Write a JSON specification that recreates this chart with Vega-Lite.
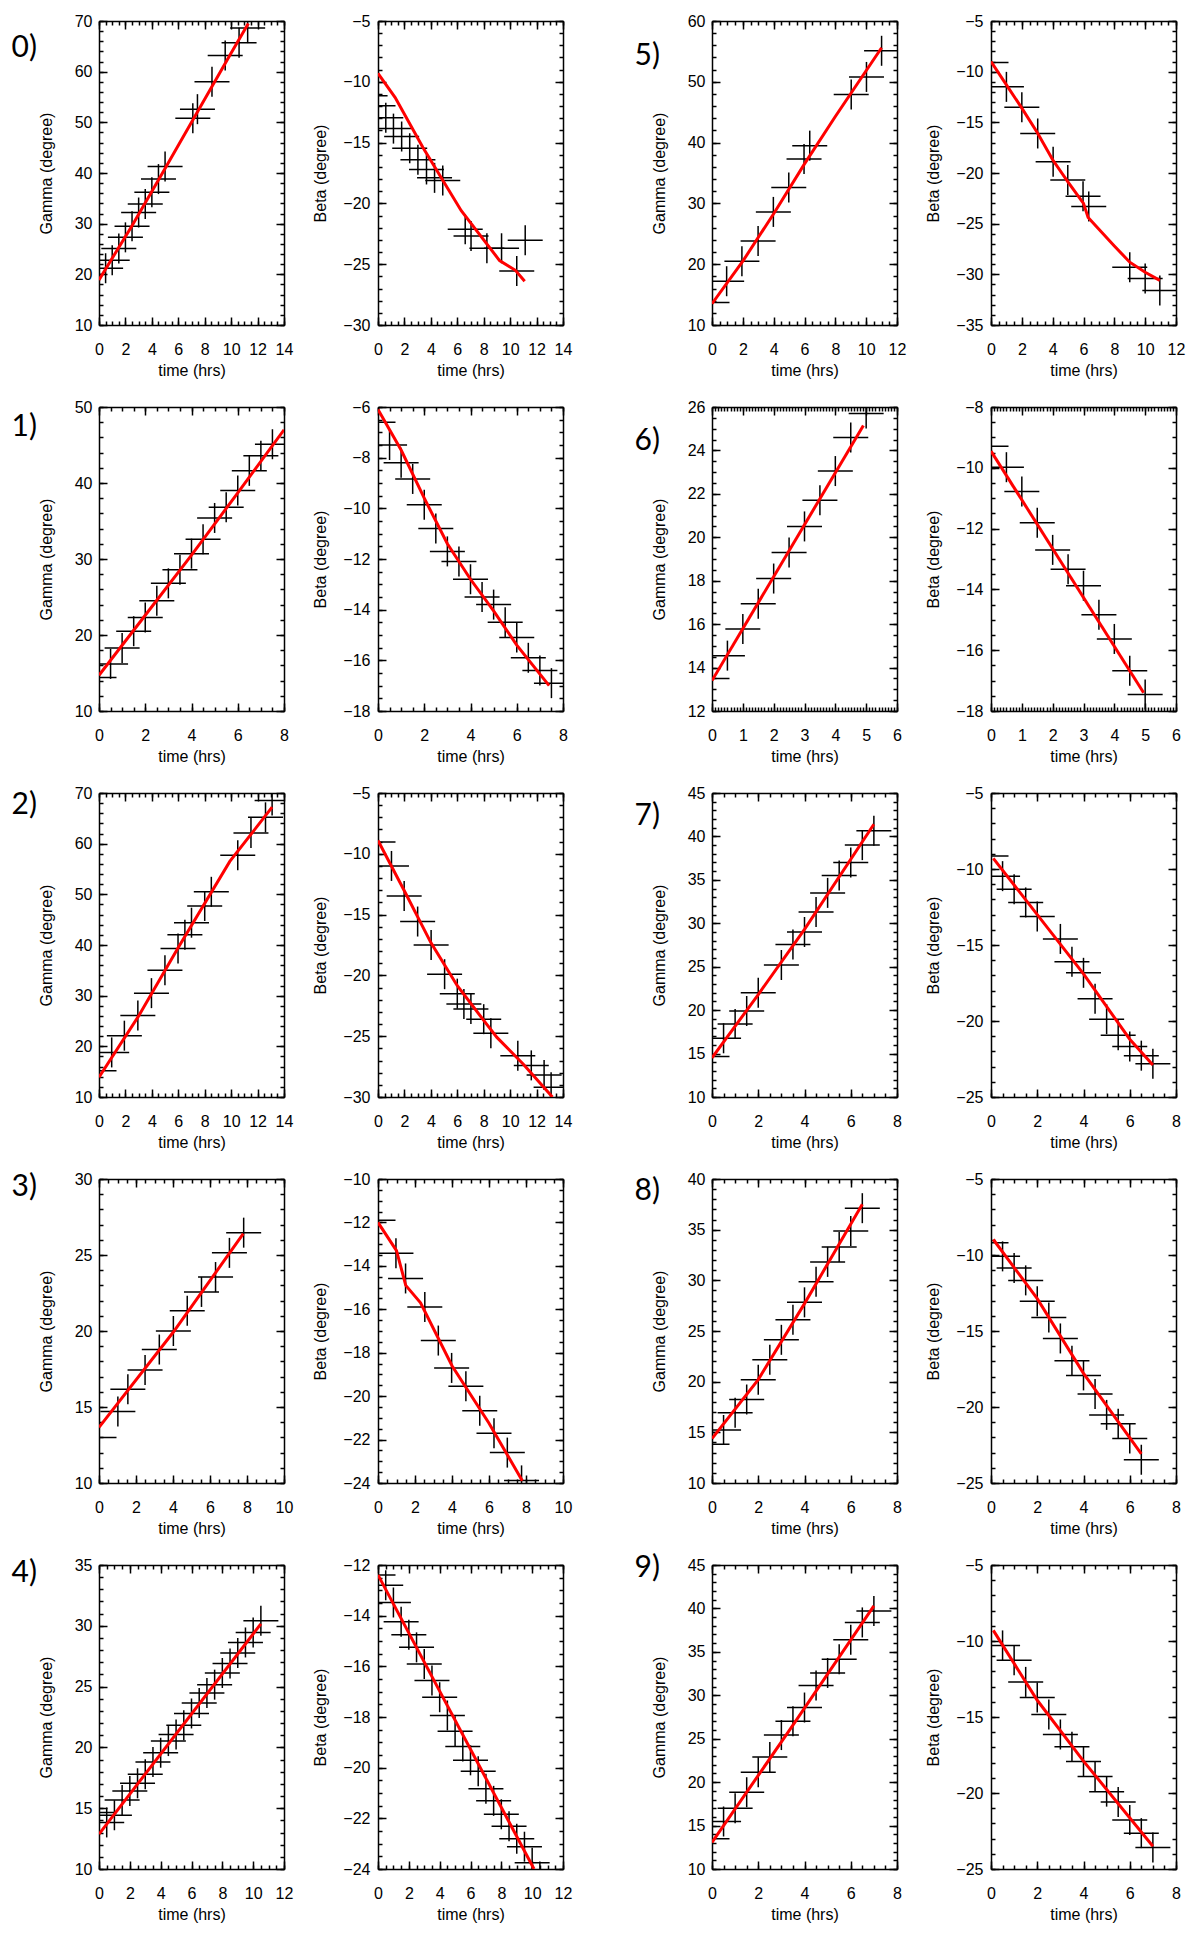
{
  "$schema": "https://vega.github.io/schema/vega-lite/v6.json",
  "background": "white",
  "padding": {"left": 11, "top": 13, "right": 5, "bottom": 5},
  "columns": 7,
  "spacing": {"row": 82, "column": 0},
  "bounds": "flush",
  "datasets": {
    "g0": [{"t":0.5,"v":21.2},{"t":1,"v":22.8},{"t":1.5,"v":25.1},{"t":2,"v":27.3},{"t":2.5,"v":29.5},{"t":3,"v":32.2},{"t":3.5,"v":33.9},{"t":4,"v":36.2},{"t":4.5,"v":38.8},{"t":5,"v":41.3},{"t":7.1,"v":50.8},{"t":7.45,"v":52.6},{"t":8.55,"v":58.0},{"t":9.55,"v":63.2},{"t":10.6,"v":65.7},{"t":11.25,"v":68.6}],
    "g0f": [{"t":0,"v":18.9},{"t":2.5,"v":29.6},{"t":5,"v":40.9},{"t":7.5,"v":52.3},{"t":10,"v":63.7},{"t":11.3,"v":69.5}],
    "b0": [{"t":-0.6,"v":-11.15},{"t":0,"v":-11.97},{"t":0.59,"v":-12.95},{"t":1.17,"v":-13.85},{"t":1.79,"v":-14.5},{"t":2.4,"v":-15.46},{"t":3.02,"v":-16.42},{"t":3.67,"v":-17.21},{"t":4.28,"v":-17.9},{"t":4.9,"v":-18.11},{"t":6.6,"v":-22.13},{"t":7.04,"v":-22.68},{"t":8.24,"v":-23.69},{"t":9.35,"v":-23.69},{"t":10.5,"v":-25.55},{"t":11.14,"v":-23.03}],
    "b0f": [{"t":0,"v":-9.3},{"t":1.3,"v":-11.3},{"t":3.4,"v":-15.4},{"t":6.3,"v":-20.6},{"t":9.2,"v":-24.7},{"t":10.4,"v":-25.5},{"t":11.1,"v":-26.4}],
    "g5": [{"t":0,"v":13.7},{"t":0.95,"v":17.2},{"t":1.94,"v":20.5},{"t":2.99,"v":23.8},{"t":3.98,"v":28.6},{"t":4.98,"v":32.6},{"t":5.97,"v":37.3},{"t":6.34,"v":39.5},{"t":9.03,"v":47.9},{"t":10.02,"v":50.8},{"t":11,"v":55.1}],
    "g5f": [{"t":0,"v":13.5},{"t":2,"v":20.5},{"t":4,"v":28.3},{"t":6,"v":36.5},{"t":8,"v":44.3},{"t":11,"v":55.6}],
    "b5": [{"t":0,"v":-9.1},{"t":1,"v":-11.5},{"t":2,"v":-13.5},{"t":3.03,"v":-16.1},{"t":4.03,"v":-18.9},{"t":4.98,"v":-20.7},{"t":5.97,"v":-22.3},{"t":6.34,"v":-23.3},{"t":9,"v":-29.3},{"t":10,"v":-30.4},{"t":10.95,"v":-31.6}],
    "b5f": [{"t":0,"v":-9},{"t":1,"v":-11.3},{"t":2,"v":-13.6},{"t":3,"v":-16},{"t":4,"v":-18.7},{"t":5,"v":-20.9},{"t":6,"v":-23},{"t":6.3,"v":-24.4},{"t":8,"v":-27.2},{"t":9,"v":-28.8},{"t":10,"v":-29.8},{"t":10.95,"v":-30.6}],
    "g1": [{"t":0,"v":14.4},{"t":0.5,"v":16.2},{"t":1,"v":18.3},{"t":1.5,"v":20.5},{"t":2,"v":22.3},{"t":2.5,"v":24.5},{"t":3,"v":26.8},{"t":3.5,"v":28.6},{"t":4,"v":30.7},{"t":4.5,"v":32.6},{"t":5,"v":35.4},{"t":5.5,"v":36.8},{"t":6,"v":39.0},{"t":6.5,"v":41.6},{"t":7,"v":43.6},{"t":7.5,"v":45.1}],
    "g1f": [{"t":0,"v":14.7},{"t":2,"v":22.6},{"t":4,"v":30.5},{"t":6,"v":38.7},{"t":8,"v":47.0}],
    "b1": [{"t":0,"v":-6.6},{"t":0.5,"v":-7.5},{"t":1,"v":-8.2},{"t":1.5,"v":-8.84},{"t":2,"v":-9.86},{"t":2.5,"v":-10.8},{"t":3,"v":-11.7},{"t":3.5,"v":-12.1},{"t":4,"v":-12.8},{"t":4.5,"v":-13.5},{"t":5,"v":-13.8},{"t":5.5,"v":-14.5},{"t":6,"v":-15.1},{"t":6.5,"v":-15.9},{"t":7,"v":-16.4},{"t":7.5,"v":-16.9}],
    "b1f": [{"t":0,"v":-6.1},{"t":1,"v":-7.7},{"t":2,"v":-9.6},{"t":3,"v":-11.4},{"t":4,"v":-12.8},{"t":5,"v":-14.05},{"t":6,"v":-15.4},{"t":7.4,"v":-17.0}],
    "g6": [{"t":0,"v":13.5},{"t":0.5,"v":14.55},{"t":1,"v":15.78},{"t":1.5,"v":16.94},{"t":2,"v":18.1},{"t":2.5,"v":19.3},{"t":3,"v":20.5},{"t":3.5,"v":21.7},{"t":4,"v":23.05},{"t":4.5,"v":24.6},{"t":5,"v":25.7}],
    "g6f": [{"t":0,"v":13.4},{"t":4.91,"v":25.15}],
    "b6": [{"t":0,"v":-9.29},{"t":0.5,"v":-9.98},{"t":1,"v":-10.78},{"t":1.5,"v":-11.81},{"t":2,"v":-12.7},{"t":2.5,"v":-13.34},{"t":3,"v":-13.88},{"t":3.5,"v":-14.83},{"t":4,"v":-15.63},{"t":4.5,"v":-16.68},{"t":5,"v":-17.46}],
    "b6f": [{"t":0,"v":-9.45},{"t":4.95,"v":-17.4}],
    "g2": [{"t":0,"v":15.2},{"t":0.96,"v":18.8},{"t":1.92,"v":22.1},{"t":2.94,"v":26.1},{"t":3.97,"v":30.5},{"t":4.99,"v":35.0},{"t":5.98,"v":39.3},{"t":6.5,"v":42.0},{"t":7,"v":44.4},{"t":8,"v":47.7},{"t":8.5,"v":50.5},{"t":10.5,"v":57.7},{"t":11.5,"v":62.1},{"t":12.6,"v":65.2},{"t":13.1,"v":68.5}],
    "g2f": [{"t":0,"v":13.9},{"t":3,"v":26.0},{"t":6,"v":39.5},{"t":9.9,"v":56.5},{"t":13.1,"v":67.2}],
    "b2": [{"t":0,"v":-9.02},{"t":1.02,"v":-11.0},{"t":1.98,"v":-13.47},{"t":3,"v":-15.57},{"t":4.02,"v":-17.5},{"t":5.04,"v":-19.9},{"t":6,"v":-21.5},{"t":6.5,"v":-22.35},{"t":7.03,"v":-22.76},{"t":8,"v":-23.6},{"t":8.54,"v":-24.75},{"t":10.58,"v":-26.6},{"t":11.6,"v":-27.4},{"t":12.57,"v":-28.2},{"t":13.1,"v":-29.2}],
    "b2f": [{"t":0,"v":-8.9},{"t":2,"v":-13.06},{"t":4,"v":-17.3},{"t":6,"v":-20.85},{"t":8,"v":-23.7},{"t":9,"v":-25.1},{"t":11,"v":-27.3},{"t":13.2,"v":-30.0}],
    "g7": [{"t":0,"v":14.65},{"t":0.5,"v":16.76},{"t":1,"v":18.4},{"t":1.5,"v":19.9},{"t":2,"v":22.0},{"t":3,"v":25.2},{"t":3.5,"v":27.56},{"t":4,"v":29.0},{"t":4.5,"v":31.3},{"t":5,"v":33.5},{"t":5.5,"v":35.5},{"t":6,"v":37.0},{"t":6.5,"v":39.0},{"t":7,"v":40.65}],
    "g7f": [{"t":0,"v":14.5},{"t":2,"v":21.8},{"t":4,"v":29.3},{"t":7,"v":41.4}],
    "b7": [{"t":0,"v":-9.14},{"t":0.5,"v":-10.47},{"t":1,"v":-11.34},{"t":1.5,"v":-12.2},{"t":2,"v":-13.13},{"t":3,"v":-14.6},{"t":3.5,"v":-16.1},{"t":4,"v":-16.83},{"t":4.5,"v":-18.53},{"t":5,"v":-19.88},{"t":5.5,"v":-20.93},{"t":6,"v":-21.67},{"t":6.5,"v":-22.28},{"t":7,"v":-22.82}],
    "b7f": [{"t":0.1,"v":-9.3},{"t":2,"v":-13.0},{"t":4,"v":-16.9},{"t":6,"v":-21.2},{"t":7,"v":-22.9}],
    "g3": [{"t":0,"v":13.0},{"t":1.02,"v":14.7},{"t":1.56,"v":16.17},{"t":2.49,"v":17.43},{"t":3.26,"v":18.78},{"t":4.02,"v":20.0},{"t":4.77,"v":21.33},{"t":5.54,"v":22.57},{"t":6.3,"v":23.55},{"t":7.05,"v":25.14},{"t":7.82,"v":26.47}],
    "g3f": [{"t":0,"v":13.66},{"t":4,"v":19.9},{"t":7.8,"v":26.4}],
    "b3": [{"t":0,"v":-11.9},{"t":0.97,"v":-13.42},{"t":1.49,"v":-14.58},{"t":2.53,"v":-15.9},{"t":3.26,"v":-17.44},{"t":3.98,"v":-18.7},{"t":4.75,"v":-19.54},{"t":5.5,"v":-20.67},{"t":6.27,"v":-21.71},{"t":6.99,"v":-22.6},{"t":7.76,"v":-23.88}],
    "b3f": [{"t":0,"v":-12.0},{"t":1,"v":-13.3},{"t":1.5,"v":-14.9},{"t":2.3,"v":-15.7},{"t":4,"v":-18.6},{"t":6,"v":-21.25},{"t":7.8,"v":-23.9}],
    "g8": [{"t":0,"v":13.83},{"t":0.5,"v":15.23},{"t":1,"v":16.93},{"t":1.5,"v":18.24},{"t":2,"v":20.2},{"t":2.5,"v":22.17},{"t":3,"v":24.13},{"t":3.5,"v":26.1},{"t":4,"v":27.83},{"t":4.5,"v":29.86},{"t":5,"v":31.82},{"t":5.5,"v":33.29},{"t":6,"v":34.86},{"t":6.5,"v":37.12}],
    "g8f": [{"t":0,"v":14.38},{"t":2,"v":20.2},{"t":4,"v":27.7},{"t":6.5,"v":37.5}],
    "b8": [{"t":0,"v":-9.2},{"t":0.5,"v":-10.09},{"t":1,"v":-10.86},{"t":1.5,"v":-11.67},{"t":2,"v":-13.04},{"t":2.5,"v":-14.11},{"t":3,"v":-15.49},{"t":3.5,"v":-16.96},{"t":4,"v":-17.92},{"t":4.5,"v":-19.14},{"t":5,"v":-20.52},{"t":5.5,"v":-21.11},{"t":6,"v":-22.07},{"t":6.5,"v":-23.47}],
    "b8f": [{"t":0.1,"v":-8.98},{"t":2,"v":-12.87},{"t":4,"v":-17.79},{"t":6.5,"v":-23.08}],
    "g4": [{"t":0,"v":14.64},{"t":0.5,"v":13.83},{"t":1,"v":14.43},{"t":1.5,"v":15.68},{"t":2,"v":16.42},{"t":2.5,"v":17.05},{"t":3,"v":17.79},{"t":3.5,"v":18.8},{"t":4,"v":19.56},{"t":4.5,"v":20.52},{"t":5,"v":21.07},{"t":5.5,"v":21.83},{"t":6,"v":22.79},{"t":6.5,"v":23.66},{"t":7,"v":24.48},{"t":7.5,"v":25.16},{"t":8,"v":26.12},{"t":8.5,"v":26.89},{"t":9,"v":27.76},{"t":9.5,"v":28.63},{"t":10,"v":29.45},{"t":10.5,"v":30.41}],
    "g4f": [{"t":0,"v":12.87},{"t":10.5,"v":30.16}],
    "b4": [{"t":0,"v":-12.39},{"t":0.5,"v":-12.8},{"t":1,"v":-13.48},{"t":1.5,"v":-14.24},{"t":2,"v":-14.75},{"t":2.5,"v":-15.25},{"t":3,"v":-15.91},{"t":3.5,"v":-16.56},{"t":4,"v":-17.22},{"t":4.5,"v":-17.94},{"t":5,"v":-18.56},{"t":5.5,"v":-19.16},{"t":6,"v":-19.71},{"t":6.5,"v":-20.14},{"t":7,"v":-20.83},{"t":7.5,"v":-21.31},{"t":8,"v":-21.84},{"t":8.5,"v":-22.31},{"t":9,"v":-22.81},{"t":9.5,"v":-23.12},{"t":10,"v":-23.75},{"t":10.5,"v":-24.3}],
    "b4f": [{"t":0,"v":-12.39},{"t":10.12,"v":-24.0}],
    "g9": [{"t":0,"v":13.48},{"t":0.5,"v":15.47},{"t":1,"v":17.0},{"t":1.5,"v":18.84},{"t":2,"v":21.13},{"t":2.5,"v":22.89},{"t":3,"v":25.42},{"t":3.5,"v":27.02},{"t":4,"v":28.59},{"t":4.5,"v":31.12},{"t":5,"v":32.57},{"t":5.5,"v":34.14},{"t":6,"v":36.4},{"t":6.5,"v":38.39},{"t":7,"v":39.69}],
    "g9f": [{"t":0,"v":13.06},{"t":3.5,"v":26.56},{"t":7,"v":40.3}],
    "b9": [{"t":0.5,"v":-10.29},{"t":1,"v":-11.27},{"t":1.5,"v":-12.69},{"t":2,"v":-13.72},{"t":2.5,"v":-14.84},{"t":3,"v":-16.15},{"t":3.5,"v":-16.96},{"t":4,"v":-17.92},{"t":4.5,"v":-18.92},{"t":5,"v":-19.91},{"t":5.5,"v":-20.6},{"t":6,"v":-21.77},{"t":6.5,"v":-22.64},{"t":7,"v":-23.58}],
    "b9f": [{"t":0.1,"v":-9.3},{"t":2,"v":-13.9},{"t":4,"v":-17.9},{"t":7,"v":-23.5}]
  },
  "concat": [
    {"width":185,"height":304,
     "title":{"text":"0)","orient":"top","anchor":"start","frame":"group","align":"right","baseline":"top","dx":-62,"dy":50,"offset":0,"font":"Lato","fontSize":30,"fontWeight":"normal","color":"black"},
     "resolve":{"axis":{"x":"independent","y":"independent"}},
     "layer":[
      {"data":{"name":"g0"},"mark":{"type":"tick","orient":"horizontal","size":35,"thickness":1.5,"color":"black","opacity":1,"clip":true},
       "encoding":{"x":{"field":"t","type":"quantitative","scale":{"domain":[0,14],"nice":false,"zero":false},"axis":{"orient":"bottom","values":[0,2,4,6,8,10,12,14],"tickSize":-8,"labelPadding":24,"title":"time (hrs)","minExtent":32,"maxExtent":32,"titlePadding":5}},
                   "y":{"field":"v","type":"quantitative","scale":{"domain":[10,70],"nice":false,"zero":false},"axis":{"orient":"left","values":[10,20,30,40,50,60,70],"tickSize":-8,"labelPadding":15,"title":"Gamma (degree)","minExtent":39,"maxExtent":39,"titlePadding":6}}}},
      {"data":{"name":"g0"},"mark":{"type":"tick","orient":"vertical","size":30,"thickness":1.5,"color":"black","opacity":1,"clip":true},
       "encoding":{"x":{"field":"t","type":"quantitative","scale":{"domain":[0,14],"nice":false,"zero":false},"axis":{"orient":"top","values":[0,2,4,6,8,10,12,14],"tickSize":-8,"labels":false,"title":null}},
                   "y":{"field":"v","type":"quantitative","scale":{"domain":[10,70],"nice":false,"zero":false},"axis":{"orient":"right","values":[10,20,30,40,50,60,70],"tickSize":-8,"labels":false,"title":null}}}},
      {"data":{"name":"g0f"},"mark":{"type":"line","color":"#ff0000","strokeWidth":3,"clip":true},
       "encoding":{"x":{"field":"t","type":"quantitative","scale":{"domain":[0,14],"nice":false,"zero":false},"axis":{"orient":"bottom","tickCount":28,"tickSize":-4,"labels":false,"domain":false,"title":null}},
                   "y":{"field":"v","type":"quantitative","scale":{"domain":[10,70],"nice":false,"zero":false},"axis":{"orient":"left","tickCount":30,"tickSize":-4,"labels":false,"domain":false,"title":null}}}},
      {"data":{"name":"g0f"},"mark":{"type":"point","opacity":0},
       "encoding":{"x":{"field":"t","type":"quantitative","scale":{"domain":[0,14],"nice":false,"zero":false},"axis":{"orient":"top","tickCount":28,"tickSize":-4,"labels":false,"domain":false,"title":null}},
                   "y":{"field":"v","type":"quantitative","scale":{"domain":[10,70],"nice":false,"zero":false},"axis":{"orient":"right","tickCount":30,"tickSize":-4,"labels":false,"domain":false,"title":null}}}}
     ]},
    {"width":94,"height":304,"data":{"values":[{"a":0}]},"mark":{"type":"point","opacity":0}},
    {"width":185,"height":304,
     "resolve":{"axis":{"x":"independent","y":"independent"}},
     "layer":[
      {"data":{"name":"b0"},"mark":{"type":"tick","orient":"horizontal","size":35,"thickness":1.5,"color":"black","opacity":1,"clip":true},
       "encoding":{"x":{"field":"t","type":"quantitative","scale":{"domain":[0,14],"nice":false,"zero":false},"axis":{"orient":"bottom","values":[0,2,4,6,8,10,12,14],"tickSize":-8,"labelPadding":24,"title":"time (hrs)","minExtent":32,"maxExtent":32,"titlePadding":5}},
                   "y":{"field":"v","type":"quantitative","scale":{"domain":[-30,-5],"nice":false,"zero":false},"axis":{"orient":"left","values":[-30,-25,-20,-15,-10,-5],"tickSize":-8,"labelPadding":16,"title":"Beta (degree)","minExtent":44,"maxExtent":44,"titlePadding":6}}}},
      {"data":{"name":"b0"},"mark":{"type":"tick","orient":"vertical","size":30,"thickness":1.5,"color":"black","opacity":1,"clip":true},
       "encoding":{"x":{"field":"t","type":"quantitative","scale":{"domain":[0,14],"nice":false,"zero":false},"axis":{"orient":"top","values":[0,2,4,6,8,10,12,14],"tickSize":-8,"labels":false,"title":null}},
                   "y":{"field":"v","type":"quantitative","scale":{"domain":[-30,-5],"nice":false,"zero":false},"axis":{"orient":"right","values":[-30,-25,-20,-15,-10,-5],"tickSize":-8,"labels":false,"title":null}}}},
      {"data":{"name":"b0f"},"mark":{"type":"line","color":"#ff0000","strokeWidth":3,"clip":true},
       "encoding":{"x":{"field":"t","type":"quantitative","scale":{"domain":[0,14],"nice":false,"zero":false},"axis":{"orient":"bottom","tickCount":28,"tickSize":-4,"labels":false,"domain":false,"title":null}},
                   "y":{"field":"v","type":"quantitative","scale":{"domain":[-30,-5],"nice":false,"zero":false},"axis":{"orient":"left","tickCount":25,"tickSize":-4,"labels":false,"domain":false,"title":null}}}},
      {"data":{"name":"b0f"},"mark":{"type":"point","opacity":0},
       "encoding":{"x":{"field":"t","type":"quantitative","scale":{"domain":[0,14],"nice":false,"zero":false},"axis":{"orient":"top","tickCount":28,"tickSize":-4,"labels":false,"domain":false,"title":null}},
                   "y":{"field":"v","type":"quantitative","scale":{"domain":[-30,-5],"nice":false,"zero":false},"axis":{"orient":"right","tickCount":25,"tickSize":-4,"labels":false,"domain":false,"title":null}}}}
     ]},
    {"width":149,"height":304,"data":{"values":[{"a":0}]},"mark":{"type":"point","opacity":0}},
    {"width":185,"height":304,
     "title":{"text":"5)","orient":"top","anchor":"start","frame":"group","align":"right","baseline":"top","dx":-52,"dy":58,"offset":0,"font":"Lato","fontSize":30,"fontWeight":"normal","color":"black"},
     "resolve":{"axis":{"x":"independent","y":"independent"}},
     "layer":[
      {"data":{"name":"g5"},"mark":{"type":"tick","orient":"horizontal","size":35,"thickness":1.5,"color":"black","opacity":1,"clip":true},
       "encoding":{"x":{"field":"t","type":"quantitative","scale":{"domain":[0,12],"nice":false,"zero":false},"axis":{"orient":"bottom","values":[0,2,4,6,8,10,12],"tickSize":-8,"labelPadding":24,"title":"time (hrs)","minExtent":32,"maxExtent":32,"titlePadding":5}},
                   "y":{"field":"v","type":"quantitative","scale":{"domain":[10,60],"nice":false,"zero":false},"axis":{"orient":"left","values":[10,20,30,40,50,60],"tickSize":-8,"labelPadding":15,"title":"Gamma (degree)","minExtent":39,"maxExtent":39,"titlePadding":6}}}},
      {"data":{"name":"g5"},"mark":{"type":"tick","orient":"vertical","size":30,"thickness":1.5,"color":"black","opacity":1,"clip":true},
       "encoding":{"x":{"field":"t","type":"quantitative","scale":{"domain":[0,12],"nice":false,"zero":false},"axis":{"orient":"top","values":[0,2,4,6,8,10,12],"tickSize":-8,"labels":false,"title":null}},
                   "y":{"field":"v","type":"quantitative","scale":{"domain":[10,60],"nice":false,"zero":false},"axis":{"orient":"right","values":[10,20,30,40,50,60],"tickSize":-8,"labels":false,"title":null}}}},
      {"data":{"name":"g5f"},"mark":{"type":"line","color":"#ff0000","strokeWidth":3,"clip":true},
       "encoding":{"x":{"field":"t","type":"quantitative","scale":{"domain":[0,12],"nice":false,"zero":false},"axis":{"orient":"bottom","tickCount":24,"tickSize":-4,"labels":false,"domain":false,"title":null}},
                   "y":{"field":"v","type":"quantitative","scale":{"domain":[10,60],"nice":false,"zero":false},"axis":{"orient":"left","tickCount":25,"tickSize":-4,"labels":false,"domain":false,"title":null}}}},
      {"data":{"name":"g5f"},"mark":{"type":"point","opacity":0},
       "encoding":{"x":{"field":"t","type":"quantitative","scale":{"domain":[0,12],"nice":false,"zero":false},"axis":{"orient":"top","tickCount":24,"tickSize":-4,"labels":false,"domain":false,"title":null}},
                   "y":{"field":"v","type":"quantitative","scale":{"domain":[10,60],"nice":false,"zero":false},"axis":{"orient":"right","tickCount":25,"tickSize":-4,"labels":false,"domain":false,"title":null}}}}
     ]},
    {"width":94,"height":304,"data":{"values":[{"a":0}]},"mark":{"type":"point","opacity":0}},
    {"width":185,"height":304,
     "resolve":{"axis":{"x":"independent","y":"independent"}},
     "layer":[
      {"data":{"name":"b5"},"mark":{"type":"tick","orient":"horizontal","size":35,"thickness":1.5,"color":"black","opacity":1,"clip":true},
       "encoding":{"x":{"field":"t","type":"quantitative","scale":{"domain":[0,12],"nice":false,"zero":false},"axis":{"orient":"bottom","values":[0,2,4,6,8,10,12],"tickSize":-8,"labelPadding":24,"title":"time (hrs)","minExtent":32,"maxExtent":32,"titlePadding":5}},
                   "y":{"field":"v","type":"quantitative","scale":{"domain":[-35,-5],"nice":false,"zero":false},"axis":{"orient":"left","values":[-35,-30,-25,-20,-15,-10,-5],"tickSize":-8,"labelPadding":16,"title":"Beta (degree)","minExtent":44,"maxExtent":44,"titlePadding":6}}}},
      {"data":{"name":"b5"},"mark":{"type":"tick","orient":"vertical","size":30,"thickness":1.5,"color":"black","opacity":1,"clip":true},
       "encoding":{"x":{"field":"t","type":"quantitative","scale":{"domain":[0,12],"nice":false,"zero":false},"axis":{"orient":"top","values":[0,2,4,6,8,10,12],"tickSize":-8,"labels":false,"title":null}},
                   "y":{"field":"v","type":"quantitative","scale":{"domain":[-35,-5],"nice":false,"zero":false},"axis":{"orient":"right","values":[-35,-30,-25,-20,-15,-10,-5],"tickSize":-8,"labels":false,"title":null}}}},
      {"data":{"name":"b5f"},"mark":{"type":"line","color":"#ff0000","strokeWidth":3,"clip":true},
       "encoding":{"x":{"field":"t","type":"quantitative","scale":{"domain":[0,12],"nice":false,"zero":false},"axis":{"orient":"bottom","tickCount":24,"tickSize":-4,"labels":false,"domain":false,"title":null}},
                   "y":{"field":"v","type":"quantitative","scale":{"domain":[-35,-5],"nice":false,"zero":false},"axis":{"orient":"left","tickCount":30,"tickSize":-4,"labels":false,"domain":false,"title":null}}}},
      {"data":{"name":"b5f"},"mark":{"type":"point","opacity":0},
       "encoding":{"x":{"field":"t","type":"quantitative","scale":{"domain":[0,12],"nice":false,"zero":false},"axis":{"orient":"top","tickCount":24,"tickSize":-4,"labels":false,"domain":false,"title":null}},
                   "y":{"field":"v","type":"quantitative","scale":{"domain":[-35,-5],"nice":false,"zero":false},"axis":{"orient":"right","tickCount":30,"tickSize":-4,"labels":false,"domain":false,"title":null}}}}
     ]},

    {"width":185,"height":304,
     "title":{"text":"1)","orient":"top","anchor":"start","frame":"group","align":"right","baseline":"top","dx":-62,"dy":43,"offset":0,"font":"Lato","fontSize":30,"fontWeight":"normal","color":"black"},
     "resolve":{"axis":{"x":"independent","y":"independent"}},
     "layer":[
      {"data":{"name":"g1"},"mark":{"type":"tick","orient":"horizontal","size":35,"thickness":1.5,"color":"black","opacity":1,"clip":true},
       "encoding":{"x":{"field":"t","type":"quantitative","scale":{"domain":[0,8],"nice":false,"zero":false},"axis":{"orient":"bottom","values":[0,2,4,6,8],"tickSize":-8,"labelPadding":24,"title":"time (hrs)","minExtent":32,"maxExtent":32,"titlePadding":5}},
                   "y":{"field":"v","type":"quantitative","scale":{"domain":[10,50],"nice":false,"zero":false},"axis":{"orient":"left","values":[10,20,30,40,50],"tickSize":-8,"labelPadding":15,"title":"Gamma (degree)","minExtent":39,"maxExtent":39,"titlePadding":6}}}},
      {"data":{"name":"g1"},"mark":{"type":"tick","orient":"vertical","size":30,"thickness":1.5,"color":"black","opacity":1,"clip":true},
       "encoding":{"x":{"field":"t","type":"quantitative","scale":{"domain":[0,8],"nice":false,"zero":false},"axis":{"orient":"top","values":[0,2,4,6,8],"tickSize":-8,"labels":false,"title":null}},
                   "y":{"field":"v","type":"quantitative","scale":{"domain":[10,50],"nice":false,"zero":false},"axis":{"orient":"right","values":[10,20,30,40,50],"tickSize":-8,"labels":false,"title":null}}}},
      {"data":{"name":"g1f"},"mark":{"type":"line","color":"#ff0000","strokeWidth":3,"clip":true},
       "encoding":{"x":{"field":"t","type":"quantitative","scale":{"domain":[0,8],"nice":false,"zero":false},"axis":{"orient":"bottom","tickCount":16,"tickSize":-4,"labels":false,"domain":false,"title":null}},
                   "y":{"field":"v","type":"quantitative","scale":{"domain":[10,50],"nice":false,"zero":false},"axis":{"orient":"left","tickCount":20,"tickSize":-4,"labels":false,"domain":false,"title":null}}}},
      {"data":{"name":"g1f"},"mark":{"type":"point","opacity":0},
       "encoding":{"x":{"field":"t","type":"quantitative","scale":{"domain":[0,8],"nice":false,"zero":false},"axis":{"orient":"top","tickCount":16,"tickSize":-4,"labels":false,"domain":false,"title":null}},
                   "y":{"field":"v","type":"quantitative","scale":{"domain":[10,50],"nice":false,"zero":false},"axis":{"orient":"right","tickCount":20,"tickSize":-4,"labels":false,"domain":false,"title":null}}}}
     ]},
    {"width":94,"height":304,"data":{"values":[{"a":0}]},"mark":{"type":"point","opacity":0}},
    {"width":185,"height":304,
     "resolve":{"axis":{"x":"independent","y":"independent"}},
     "layer":[
      {"data":{"name":"b1"},"mark":{"type":"tick","orient":"horizontal","size":35,"thickness":1.5,"color":"black","opacity":1,"clip":true},
       "encoding":{"x":{"field":"t","type":"quantitative","scale":{"domain":[0,8],"nice":false,"zero":false},"axis":{"orient":"bottom","values":[0,2,4,6,8],"tickSize":-8,"labelPadding":24,"title":"time (hrs)","minExtent":32,"maxExtent":32,"titlePadding":5}},
                   "y":{"field":"v","type":"quantitative","scale":{"domain":[-18,-6],"nice":false,"zero":false},"axis":{"orient":"left","values":[-18,-16,-14,-12,-10,-8,-6],"tickSize":-8,"labelPadding":16,"title":"Beta (degree)","minExtent":44,"maxExtent":44,"titlePadding":6}}}},
      {"data":{"name":"b1"},"mark":{"type":"tick","orient":"vertical","size":30,"thickness":1.5,"color":"black","opacity":1,"clip":true},
       "encoding":{"x":{"field":"t","type":"quantitative","scale":{"domain":[0,8],"nice":false,"zero":false},"axis":{"orient":"top","values":[0,2,4,6,8],"tickSize":-8,"labels":false,"title":null}},
                   "y":{"field":"v","type":"quantitative","scale":{"domain":[-18,-6],"nice":false,"zero":false},"axis":{"orient":"right","values":[-18,-16,-14,-12,-10,-8,-6],"tickSize":-8,"labels":false,"title":null}}}},
      {"data":{"name":"b1f"},"mark":{"type":"line","color":"#ff0000","strokeWidth":3,"clip":true},
       "encoding":{"x":{"field":"t","type":"quantitative","scale":{"domain":[0,8],"nice":false,"zero":false},"axis":{"orient":"bottom","tickCount":16,"tickSize":-4,"labels":false,"domain":false,"title":null}},
                   "y":{"field":"v","type":"quantitative","scale":{"domain":[-18,-6],"nice":false,"zero":false},"axis":{"orient":"left","tickCount":24,"tickSize":-4,"labels":false,"domain":false,"title":null}}}},
      {"data":{"name":"b1f"},"mark":{"type":"point","opacity":0},
       "encoding":{"x":{"field":"t","type":"quantitative","scale":{"domain":[0,8],"nice":false,"zero":false},"axis":{"orient":"top","tickCount":16,"tickSize":-4,"labels":false,"domain":false,"title":null}},
                   "y":{"field":"v","type":"quantitative","scale":{"domain":[-18,-6],"nice":false,"zero":false},"axis":{"orient":"right","tickCount":24,"tickSize":-4,"labels":false,"domain":false,"title":null}}}}
     ]},
    {"width":149,"height":304,"data":{"values":[{"a":0}]},"mark":{"type":"point","opacity":0}},
    {"width":185,"height":304,
     "title":{"text":"6)","orient":"top","anchor":"start","frame":"group","align":"right","baseline":"top","dx":-52,"dy":57,"offset":0,"font":"Lato","fontSize":30,"fontWeight":"normal","color":"black"},
     "resolve":{"axis":{"x":"independent","y":"independent"}},
     "layer":[
      {"data":{"name":"g6"},"mark":{"type":"tick","orient":"horizontal","size":35,"thickness":1.5,"color":"black","opacity":1,"clip":true},
       "encoding":{"x":{"field":"t","type":"quantitative","scale":{"domain":[0,6],"nice":false,"zero":false},"axis":{"orient":"bottom","values":[0,1,2,3,4,5,6],"tickSize":-8,"labelPadding":24,"title":"time (hrs)","minExtent":32,"maxExtent":32,"titlePadding":5}},
                   "y":{"field":"v","type":"quantitative","scale":{"domain":[12,26],"nice":false,"zero":false},"axis":{"orient":"left","values":[12,14,16,18,20,22,24,26],"tickSize":-8,"labelPadding":15,"title":"Gamma (degree)","minExtent":39,"maxExtent":39,"titlePadding":6}}}},
      {"data":{"name":"g6"},"mark":{"type":"tick","orient":"vertical","size":30,"thickness":1.5,"color":"black","opacity":1,"clip":true},
       "encoding":{"x":{"field":"t","type":"quantitative","scale":{"domain":[0,6],"nice":false,"zero":false},"axis":{"orient":"top","values":[0,1,2,3,4,5,6],"tickSize":-8,"labels":false,"title":null}},
                   "y":{"field":"v","type":"quantitative","scale":{"domain":[12,26],"nice":false,"zero":false},"axis":{"orient":"right","values":[12,14,16,18,20,22,24,26],"tickSize":-8,"labels":false,"title":null}}}},
      {"data":{"name":"g6f"},"mark":{"type":"line","color":"#ff0000","strokeWidth":3,"clip":true},
       "encoding":{"x":{"field":"t","type":"quantitative","scale":{"domain":[0,6],"nice":false,"zero":false},"axis":{"orient":"bottom","tickCount":60,"tickSize":-4,"labels":false,"domain":false,"title":null}},
                   "y":{"field":"v","type":"quantitative","scale":{"domain":[12,26],"nice":false,"zero":false},"axis":{"orient":"left","tickCount":28,"tickSize":-4,"labels":false,"domain":false,"title":null}}}},
      {"data":{"name":"g6f"},"mark":{"type":"point","opacity":0},
       "encoding":{"x":{"field":"t","type":"quantitative","scale":{"domain":[0,6],"nice":false,"zero":false},"axis":{"orient":"top","tickCount":60,"tickSize":-4,"labels":false,"domain":false,"title":null}},
                   "y":{"field":"v","type":"quantitative","scale":{"domain":[12,26],"nice":false,"zero":false},"axis":{"orient":"right","tickCount":28,"tickSize":-4,"labels":false,"domain":false,"title":null}}}}
     ]},
    {"width":94,"height":304,"data":{"values":[{"a":0}]},"mark":{"type":"point","opacity":0}},
    {"width":185,"height":304,
     "resolve":{"axis":{"x":"independent","y":"independent"}},
     "layer":[
      {"data":{"name":"b6"},"mark":{"type":"tick","orient":"horizontal","size":35,"thickness":1.5,"color":"black","opacity":1,"clip":true},
       "encoding":{"x":{"field":"t","type":"quantitative","scale":{"domain":[0,6],"nice":false,"zero":false},"axis":{"orient":"bottom","values":[0,1,2,3,4,5,6],"tickSize":-8,"labelPadding":24,"title":"time (hrs)","minExtent":32,"maxExtent":32,"titlePadding":5}},
                   "y":{"field":"v","type":"quantitative","scale":{"domain":[-18,-8],"nice":false,"zero":false},"axis":{"orient":"left","values":[-18,-16,-14,-12,-10,-8],"tickSize":-8,"labelPadding":16,"title":"Beta (degree)","minExtent":44,"maxExtent":44,"titlePadding":6}}}},
      {"data":{"name":"b6"},"mark":{"type":"tick","orient":"vertical","size":30,"thickness":1.5,"color":"black","opacity":1,"clip":true},
       "encoding":{"x":{"field":"t","type":"quantitative","scale":{"domain":[0,6],"nice":false,"zero":false},"axis":{"orient":"top","values":[0,1,2,3,4,5,6],"tickSize":-8,"labels":false,"title":null}},
                   "y":{"field":"v","type":"quantitative","scale":{"domain":[-18,-8],"nice":false,"zero":false},"axis":{"orient":"right","values":[-18,-16,-14,-12,-10,-8],"tickSize":-8,"labels":false,"title":null}}}},
      {"data":{"name":"b6f"},"mark":{"type":"line","color":"#ff0000","strokeWidth":3,"clip":true},
       "encoding":{"x":{"field":"t","type":"quantitative","scale":{"domain":[0,6],"nice":false,"zero":false},"axis":{"orient":"bottom","tickCount":60,"tickSize":-4,"labels":false,"domain":false,"title":null}},
                   "y":{"field":"v","type":"quantitative","scale":{"domain":[-18,-8],"nice":false,"zero":false},"axis":{"orient":"left","tickCount":20,"tickSize":-4,"labels":false,"domain":false,"title":null}}}},
      {"data":{"name":"b6f"},"mark":{"type":"point","opacity":0},
       "encoding":{"x":{"field":"t","type":"quantitative","scale":{"domain":[0,6],"nice":false,"zero":false},"axis":{"orient":"top","tickCount":60,"tickSize":-4,"labels":false,"domain":false,"title":null}},
                   "y":{"field":"v","type":"quantitative","scale":{"domain":[-18,-8],"nice":false,"zero":false},"axis":{"orient":"right","tickCount":20,"tickSize":-4,"labels":false,"domain":false,"title":null}}}}
     ]},

    {"width":185,"height":304,
     "title":{"text":"2)","orient":"top","anchor":"start","frame":"group","align":"right","baseline":"top","dx":-62,"dy":35,"offset":0,"font":"Lato","fontSize":30,"fontWeight":"normal","color":"black"},
     "resolve":{"axis":{"x":"independent","y":"independent"}},
     "layer":[
      {"data":{"name":"g2"},"mark":{"type":"tick","orient":"horizontal","size":35,"thickness":1.5,"color":"black","opacity":1,"clip":true},
       "encoding":{"x":{"field":"t","type":"quantitative","scale":{"domain":[0,14],"nice":false,"zero":false},"axis":{"orient":"bottom","values":[0,2,4,6,8,10,12,14],"tickSize":-8,"labelPadding":24,"title":"time (hrs)","minExtent":32,"maxExtent":32,"titlePadding":5}},
                   "y":{"field":"v","type":"quantitative","scale":{"domain":[10,70],"nice":false,"zero":false},"axis":{"orient":"left","values":[10,20,30,40,50,60,70],"tickSize":-8,"labelPadding":15,"title":"Gamma (degree)","minExtent":39,"maxExtent":39,"titlePadding":6}}}},
      {"data":{"name":"g2"},"mark":{"type":"tick","orient":"vertical","size":30,"thickness":1.5,"color":"black","opacity":1,"clip":true},
       "encoding":{"x":{"field":"t","type":"quantitative","scale":{"domain":[0,14],"nice":false,"zero":false},"axis":{"orient":"top","values":[0,2,4,6,8,10,12,14],"tickSize":-8,"labels":false,"title":null}},
                   "y":{"field":"v","type":"quantitative","scale":{"domain":[10,70],"nice":false,"zero":false},"axis":{"orient":"right","values":[10,20,30,40,50,60,70],"tickSize":-8,"labels":false,"title":null}}}},
      {"data":{"name":"g2f"},"mark":{"type":"line","color":"#ff0000","strokeWidth":3,"clip":true},
       "encoding":{"x":{"field":"t","type":"quantitative","scale":{"domain":[0,14],"nice":false,"zero":false},"axis":{"orient":"bottom","tickCount":28,"tickSize":-4,"labels":false,"domain":false,"title":null}},
                   "y":{"field":"v","type":"quantitative","scale":{"domain":[10,70],"nice":false,"zero":false},"axis":{"orient":"left","tickCount":30,"tickSize":-4,"labels":false,"domain":false,"title":null}}}},
      {"data":{"name":"g2f"},"mark":{"type":"point","opacity":0},
       "encoding":{"x":{"field":"t","type":"quantitative","scale":{"domain":[0,14],"nice":false,"zero":false},"axis":{"orient":"top","tickCount":28,"tickSize":-4,"labels":false,"domain":false,"title":null}},
                   "y":{"field":"v","type":"quantitative","scale":{"domain":[10,70],"nice":false,"zero":false},"axis":{"orient":"right","tickCount":30,"tickSize":-4,"labels":false,"domain":false,"title":null}}}}
     ]},
    {"width":94,"height":304,"data":{"values":[{"a":0}]},"mark":{"type":"point","opacity":0}},
    {"width":185,"height":304,
     "resolve":{"axis":{"x":"independent","y":"independent"}},
     "layer":[
      {"data":{"name":"b2"},"mark":{"type":"tick","orient":"horizontal","size":35,"thickness":1.5,"color":"black","opacity":1,"clip":true},
       "encoding":{"x":{"field":"t","type":"quantitative","scale":{"domain":[0,14],"nice":false,"zero":false},"axis":{"orient":"bottom","values":[0,2,4,6,8,10,12,14],"tickSize":-8,"labelPadding":24,"title":"time (hrs)","minExtent":32,"maxExtent":32,"titlePadding":5}},
                   "y":{"field":"v","type":"quantitative","scale":{"domain":[-30,-5],"nice":false,"zero":false},"axis":{"orient":"left","values":[-30,-25,-20,-15,-10,-5],"tickSize":-8,"labelPadding":16,"title":"Beta (degree)","minExtent":44,"maxExtent":44,"titlePadding":6}}}},
      {"data":{"name":"b2"},"mark":{"type":"tick","orient":"vertical","size":30,"thickness":1.5,"color":"black","opacity":1,"clip":true},
       "encoding":{"x":{"field":"t","type":"quantitative","scale":{"domain":[0,14],"nice":false,"zero":false},"axis":{"orient":"top","values":[0,2,4,6,8,10,12,14],"tickSize":-8,"labels":false,"title":null}},
                   "y":{"field":"v","type":"quantitative","scale":{"domain":[-30,-5],"nice":false,"zero":false},"axis":{"orient":"right","values":[-30,-25,-20,-15,-10,-5],"tickSize":-8,"labels":false,"title":null}}}},
      {"data":{"name":"b2f"},"mark":{"type":"line","color":"#ff0000","strokeWidth":3,"clip":true},
       "encoding":{"x":{"field":"t","type":"quantitative","scale":{"domain":[0,14],"nice":false,"zero":false},"axis":{"orient":"bottom","tickCount":28,"tickSize":-4,"labels":false,"domain":false,"title":null}},
                   "y":{"field":"v","type":"quantitative","scale":{"domain":[-30,-5],"nice":false,"zero":false},"axis":{"orient":"left","tickCount":25,"tickSize":-4,"labels":false,"domain":false,"title":null}}}},
      {"data":{"name":"b2f"},"mark":{"type":"point","opacity":0},
       "encoding":{"x":{"field":"t","type":"quantitative","scale":{"domain":[0,14],"nice":false,"zero":false},"axis":{"orient":"top","tickCount":28,"tickSize":-4,"labels":false,"domain":false,"title":null}},
                   "y":{"field":"v","type":"quantitative","scale":{"domain":[-30,-5],"nice":false,"zero":false},"axis":{"orient":"right","tickCount":25,"tickSize":-4,"labels":false,"domain":false,"title":null}}}}
     ]},
    {"width":149,"height":304,"data":{"values":[{"a":0}]},"mark":{"type":"point","opacity":0}},
    {"width":185,"height":304,
     "title":{"text":"7)","orient":"top","anchor":"start","frame":"group","align":"right","baseline":"top","dx":-52,"dy":46,"offset":0,"font":"Lato","fontSize":30,"fontWeight":"normal","color":"black"},
     "resolve":{"axis":{"x":"independent","y":"independent"}},
     "layer":[
      {"data":{"name":"g7"},"mark":{"type":"tick","orient":"horizontal","size":35,"thickness":1.5,"color":"black","opacity":1,"clip":true},
       "encoding":{"x":{"field":"t","type":"quantitative","scale":{"domain":[0,8],"nice":false,"zero":false},"axis":{"orient":"bottom","values":[0,2,4,6,8],"tickSize":-8,"labelPadding":24,"title":"time (hrs)","minExtent":32,"maxExtent":32,"titlePadding":5}},
                   "y":{"field":"v","type":"quantitative","scale":{"domain":[10,45],"nice":false,"zero":false},"axis":{"orient":"left","values":[10,15,20,25,30,35,40,45],"tickSize":-8,"labelPadding":15,"title":"Gamma (degree)","minExtent":39,"maxExtent":39,"titlePadding":6}}}},
      {"data":{"name":"g7"},"mark":{"type":"tick","orient":"vertical","size":30,"thickness":1.5,"color":"black","opacity":1,"clip":true},
       "encoding":{"x":{"field":"t","type":"quantitative","scale":{"domain":[0,8],"nice":false,"zero":false},"axis":{"orient":"top","values":[0,2,4,6,8],"tickSize":-8,"labels":false,"title":null}},
                   "y":{"field":"v","type":"quantitative","scale":{"domain":[10,45],"nice":false,"zero":false},"axis":{"orient":"right","values":[10,15,20,25,30,35,40,45],"tickSize":-8,"labels":false,"title":null}}}},
      {"data":{"name":"g7f"},"mark":{"type":"line","color":"#ff0000","strokeWidth":3,"clip":true},
       "encoding":{"x":{"field":"t","type":"quantitative","scale":{"domain":[0,8],"nice":false,"zero":false},"axis":{"orient":"bottom","tickCount":16,"tickSize":-4,"labels":false,"domain":false,"title":null}},
                   "y":{"field":"v","type":"quantitative","scale":{"domain":[10,45],"nice":false,"zero":false},"axis":{"orient":"left","tickCount":35,"tickSize":-4,"labels":false,"domain":false,"title":null}}}},
      {"data":{"name":"g7f"},"mark":{"type":"point","opacity":0},
       "encoding":{"x":{"field":"t","type":"quantitative","scale":{"domain":[0,8],"nice":false,"zero":false},"axis":{"orient":"top","tickCount":16,"tickSize":-4,"labels":false,"domain":false,"title":null}},
                   "y":{"field":"v","type":"quantitative","scale":{"domain":[10,45],"nice":false,"zero":false},"axis":{"orient":"right","tickCount":35,"tickSize":-4,"labels":false,"domain":false,"title":null}}}}
     ]},
    {"width":94,"height":304,"data":{"values":[{"a":0}]},"mark":{"type":"point","opacity":0}},
    {"width":185,"height":304,
     "resolve":{"axis":{"x":"independent","y":"independent"}},
     "layer":[
      {"data":{"name":"b7"},"mark":{"type":"tick","orient":"horizontal","size":35,"thickness":1.5,"color":"black","opacity":1,"clip":true},
       "encoding":{"x":{"field":"t","type":"quantitative","scale":{"domain":[0,8],"nice":false,"zero":false},"axis":{"orient":"bottom","values":[0,2,4,6,8],"tickSize":-8,"labelPadding":24,"title":"time (hrs)","minExtent":32,"maxExtent":32,"titlePadding":5}},
                   "y":{"field":"v","type":"quantitative","scale":{"domain":[-25,-5],"nice":false,"zero":false},"axis":{"orient":"left","values":[-25,-20,-15,-10,-5],"tickSize":-8,"labelPadding":16,"title":"Beta (degree)","minExtent":44,"maxExtent":44,"titlePadding":6}}}},
      {"data":{"name":"b7"},"mark":{"type":"tick","orient":"vertical","size":30,"thickness":1.5,"color":"black","opacity":1,"clip":true},
       "encoding":{"x":{"field":"t","type":"quantitative","scale":{"domain":[0,8],"nice":false,"zero":false},"axis":{"orient":"top","values":[0,2,4,6,8],"tickSize":-8,"labels":false,"title":null}},
                   "y":{"field":"v","type":"quantitative","scale":{"domain":[-25,-5],"nice":false,"zero":false},"axis":{"orient":"right","values":[-25,-20,-15,-10,-5],"tickSize":-8,"labels":false,"title":null}}}},
      {"data":{"name":"b7f"},"mark":{"type":"line","color":"#ff0000","strokeWidth":3,"clip":true},
       "encoding":{"x":{"field":"t","type":"quantitative","scale":{"domain":[0,8],"nice":false,"zero":false},"axis":{"orient":"bottom","tickCount":16,"tickSize":-4,"labels":false,"domain":false,"title":null}},
                   "y":{"field":"v","type":"quantitative","scale":{"domain":[-25,-5],"nice":false,"zero":false},"axis":{"orient":"left","tickCount":20,"tickSize":-4,"labels":false,"domain":false,"title":null}}}},
      {"data":{"name":"b7f"},"mark":{"type":"point","opacity":0},
       "encoding":{"x":{"field":"t","type":"quantitative","scale":{"domain":[0,8],"nice":false,"zero":false},"axis":{"orient":"top","tickCount":16,"tickSize":-4,"labels":false,"domain":false,"title":null}},
                   "y":{"field":"v","type":"quantitative","scale":{"domain":[-25,-5],"nice":false,"zero":false},"axis":{"orient":"right","tickCount":20,"tickSize":-4,"labels":false,"domain":false,"title":null}}}}
     ]},

    {"width":185,"height":304,
     "title":{"text":"3)","orient":"top","anchor":"start","frame":"group","align":"right","baseline":"top","dx":-62,"dy":31,"offset":0,"font":"Lato","fontSize":30,"fontWeight":"normal","color":"black"},
     "resolve":{"axis":{"x":"independent","y":"independent"}},
     "layer":[
      {"data":{"name":"g3"},"mark":{"type":"tick","orient":"horizontal","size":35,"thickness":1.5,"color":"black","opacity":1,"clip":true},
       "encoding":{"x":{"field":"t","type":"quantitative","scale":{"domain":[0,10],"nice":false,"zero":false},"axis":{"orient":"bottom","values":[0,2,4,6,8,10],"tickSize":-8,"labelPadding":24,"title":"time (hrs)","minExtent":32,"maxExtent":32,"titlePadding":5}},
                   "y":{"field":"v","type":"quantitative","scale":{"domain":[10,30],"nice":false,"zero":false},"axis":{"orient":"left","values":[10,15,20,25,30],"tickSize":-8,"labelPadding":15,"title":"Gamma (degree)","minExtent":39,"maxExtent":39,"titlePadding":6}}}},
      {"data":{"name":"g3"},"mark":{"type":"tick","orient":"vertical","size":30,"thickness":1.5,"color":"black","opacity":1,"clip":true},
       "encoding":{"x":{"field":"t","type":"quantitative","scale":{"domain":[0,10],"nice":false,"zero":false},"axis":{"orient":"top","values":[0,2,4,6,8,10],"tickSize":-8,"labels":false,"title":null}},
                   "y":{"field":"v","type":"quantitative","scale":{"domain":[10,30],"nice":false,"zero":false},"axis":{"orient":"right","values":[10,15,20,25,30],"tickSize":-8,"labels":false,"title":null}}}},
      {"data":{"name":"g3f"},"mark":{"type":"line","color":"#ff0000","strokeWidth":3,"clip":true},
       "encoding":{"x":{"field":"t","type":"quantitative","scale":{"domain":[0,10],"nice":false,"zero":false},"axis":{"orient":"bottom","tickCount":20,"tickSize":-4,"labels":false,"domain":false,"title":null}},
                   "y":{"field":"v","type":"quantitative","scale":{"domain":[10,30],"nice":false,"zero":false},"axis":{"orient":"left","tickCount":20,"tickSize":-4,"labels":false,"domain":false,"title":null}}}},
      {"data":{"name":"g3f"},"mark":{"type":"point","opacity":0},
       "encoding":{"x":{"field":"t","type":"quantitative","scale":{"domain":[0,10],"nice":false,"zero":false},"axis":{"orient":"top","tickCount":20,"tickSize":-4,"labels":false,"domain":false,"title":null}},
                   "y":{"field":"v","type":"quantitative","scale":{"domain":[10,30],"nice":false,"zero":false},"axis":{"orient":"right","tickCount":20,"tickSize":-4,"labels":false,"domain":false,"title":null}}}}
     ]},
    {"width":94,"height":304,"data":{"values":[{"a":0}]},"mark":{"type":"point","opacity":0}},
    {"width":185,"height":304,
     "resolve":{"axis":{"x":"independent","y":"independent"}},
     "layer":[
      {"data":{"name":"b3"},"mark":{"type":"tick","orient":"horizontal","size":35,"thickness":1.5,"color":"black","opacity":1,"clip":true},
       "encoding":{"x":{"field":"t","type":"quantitative","scale":{"domain":[0,10],"nice":false,"zero":false},"axis":{"orient":"bottom","values":[0,2,4,6,8,10],"tickSize":-8,"labelPadding":24,"title":"time (hrs)","minExtent":32,"maxExtent":32,"titlePadding":5}},
                   "y":{"field":"v","type":"quantitative","scale":{"domain":[-24,-10],"nice":false,"zero":false},"axis":{"orient":"left","values":[-24,-22,-20,-18,-16,-14,-12,-10],"tickSize":-8,"labelPadding":16,"title":"Beta (degree)","minExtent":44,"maxExtent":44,"titlePadding":6}}}},
      {"data":{"name":"b3"},"mark":{"type":"tick","orient":"vertical","size":30,"thickness":1.5,"color":"black","opacity":1,"clip":true},
       "encoding":{"x":{"field":"t","type":"quantitative","scale":{"domain":[0,10],"nice":false,"zero":false},"axis":{"orient":"top","values":[0,2,4,6,8,10],"tickSize":-8,"labels":false,"title":null}},
                   "y":{"field":"v","type":"quantitative","scale":{"domain":[-24,-10],"nice":false,"zero":false},"axis":{"orient":"right","values":[-24,-22,-20,-18,-16,-14,-12,-10],"tickSize":-8,"labels":false,"title":null}}}},
      {"data":{"name":"b3f"},"mark":{"type":"line","color":"#ff0000","strokeWidth":3,"clip":true},
       "encoding":{"x":{"field":"t","type":"quantitative","scale":{"domain":[0,10],"nice":false,"zero":false},"axis":{"orient":"bottom","tickCount":20,"tickSize":-4,"labels":false,"domain":false,"title":null}},
                   "y":{"field":"v","type":"quantitative","scale":{"domain":[-24,-10],"nice":false,"zero":false},"axis":{"orient":"left","tickCount":28,"tickSize":-4,"labels":false,"domain":false,"title":null}}}},
      {"data":{"name":"b3f"},"mark":{"type":"point","opacity":0},
       "encoding":{"x":{"field":"t","type":"quantitative","scale":{"domain":[0,10],"nice":false,"zero":false},"axis":{"orient":"top","tickCount":20,"tickSize":-4,"labels":false,"domain":false,"title":null}},
                   "y":{"field":"v","type":"quantitative","scale":{"domain":[-24,-10],"nice":false,"zero":false},"axis":{"orient":"right","tickCount":28,"tickSize":-4,"labels":false,"domain":false,"title":null}}}}
     ]},
    {"width":149,"height":304,"data":{"values":[{"a":0}]},"mark":{"type":"point","opacity":0}},
    {"width":185,"height":304,
     "title":{"text":"8)","orient":"top","anchor":"start","frame":"group","align":"right","baseline":"top","dx":-52,"dy":35,"offset":0,"font":"Lato","fontSize":30,"fontWeight":"normal","color":"black"},
     "resolve":{"axis":{"x":"independent","y":"independent"}},
     "layer":[
      {"data":{"name":"g8"},"mark":{"type":"tick","orient":"horizontal","size":35,"thickness":1.5,"color":"black","opacity":1,"clip":true},
       "encoding":{"x":{"field":"t","type":"quantitative","scale":{"domain":[0,8],"nice":false,"zero":false},"axis":{"orient":"bottom","values":[0,2,4,6,8],"tickSize":-8,"labelPadding":24,"title":"time (hrs)","minExtent":32,"maxExtent":32,"titlePadding":5}},
                   "y":{"field":"v","type":"quantitative","scale":{"domain":[10,40],"nice":false,"zero":false},"axis":{"orient":"left","values":[10,15,20,25,30,35,40],"tickSize":-8,"labelPadding":15,"title":"Gamma (degree)","minExtent":39,"maxExtent":39,"titlePadding":6}}}},
      {"data":{"name":"g8"},"mark":{"type":"tick","orient":"vertical","size":30,"thickness":1.5,"color":"black","opacity":1,"clip":true},
       "encoding":{"x":{"field":"t","type":"quantitative","scale":{"domain":[0,8],"nice":false,"zero":false},"axis":{"orient":"top","values":[0,2,4,6,8],"tickSize":-8,"labels":false,"title":null}},
                   "y":{"field":"v","type":"quantitative","scale":{"domain":[10,40],"nice":false,"zero":false},"axis":{"orient":"right","values":[10,15,20,25,30,35,40],"tickSize":-8,"labels":false,"title":null}}}},
      {"data":{"name":"g8f"},"mark":{"type":"line","color":"#ff0000","strokeWidth":3,"clip":true},
       "encoding":{"x":{"field":"t","type":"quantitative","scale":{"domain":[0,8],"nice":false,"zero":false},"axis":{"orient":"bottom","tickCount":16,"tickSize":-4,"labels":false,"domain":false,"title":null}},
                   "y":{"field":"v","type":"quantitative","scale":{"domain":[10,40],"nice":false,"zero":false},"axis":{"orient":"left","tickCount":30,"tickSize":-4,"labels":false,"domain":false,"title":null}}}},
      {"data":{"name":"g8f"},"mark":{"type":"point","opacity":0},
       "encoding":{"x":{"field":"t","type":"quantitative","scale":{"domain":[0,8],"nice":false,"zero":false},"axis":{"orient":"top","tickCount":16,"tickSize":-4,"labels":false,"domain":false,"title":null}},
                   "y":{"field":"v","type":"quantitative","scale":{"domain":[10,40],"nice":false,"zero":false},"axis":{"orient":"right","tickCount":30,"tickSize":-4,"labels":false,"domain":false,"title":null}}}}
     ]},
    {"width":94,"height":304,"data":{"values":[{"a":0}]},"mark":{"type":"point","opacity":0}},
    {"width":185,"height":304,
     "resolve":{"axis":{"x":"independent","y":"independent"}},
     "layer":[
      {"data":{"name":"b8"},"mark":{"type":"tick","orient":"horizontal","size":35,"thickness":1.5,"color":"black","opacity":1,"clip":true},
       "encoding":{"x":{"field":"t","type":"quantitative","scale":{"domain":[0,8],"nice":false,"zero":false},"axis":{"orient":"bottom","values":[0,2,4,6,8],"tickSize":-8,"labelPadding":24,"title":"time (hrs)","minExtent":32,"maxExtent":32,"titlePadding":5}},
                   "y":{"field":"v","type":"quantitative","scale":{"domain":[-25,-5],"nice":false,"zero":false},"axis":{"orient":"left","values":[-25,-20,-15,-10,-5],"tickSize":-8,"labelPadding":16,"title":"Beta (degree)","minExtent":44,"maxExtent":44,"titlePadding":6}}}},
      {"data":{"name":"b8"},"mark":{"type":"tick","orient":"vertical","size":30,"thickness":1.5,"color":"black","opacity":1,"clip":true},
       "encoding":{"x":{"field":"t","type":"quantitative","scale":{"domain":[0,8],"nice":false,"zero":false},"axis":{"orient":"top","values":[0,2,4,6,8],"tickSize":-8,"labels":false,"title":null}},
                   "y":{"field":"v","type":"quantitative","scale":{"domain":[-25,-5],"nice":false,"zero":false},"axis":{"orient":"right","values":[-25,-20,-15,-10,-5],"tickSize":-8,"labels":false,"title":null}}}},
      {"data":{"name":"b8f"},"mark":{"type":"line","color":"#ff0000","strokeWidth":3,"clip":true},
       "encoding":{"x":{"field":"t","type":"quantitative","scale":{"domain":[0,8],"nice":false,"zero":false},"axis":{"orient":"bottom","tickCount":16,"tickSize":-4,"labels":false,"domain":false,"title":null}},
                   "y":{"field":"v","type":"quantitative","scale":{"domain":[-25,-5],"nice":false,"zero":false},"axis":{"orient":"left","tickCount":20,"tickSize":-4,"labels":false,"domain":false,"title":null}}}},
      {"data":{"name":"b8f"},"mark":{"type":"point","opacity":0},
       "encoding":{"x":{"field":"t","type":"quantitative","scale":{"domain":[0,8],"nice":false,"zero":false},"axis":{"orient":"top","tickCount":16,"tickSize":-4,"labels":false,"domain":false,"title":null}},
                   "y":{"field":"v","type":"quantitative","scale":{"domain":[-25,-5],"nice":false,"zero":false},"axis":{"orient":"right","tickCount":20,"tickSize":-4,"labels":false,"domain":false,"title":null}}}}
     ]},

    {"width":185,"height":304,
     "title":{"text":"4)","orient":"top","anchor":"start","frame":"group","align":"right","baseline":"top","dx":-62,"dy":31,"offset":0,"font":"Lato","fontSize":30,"fontWeight":"normal","color":"black"},
     "resolve":{"axis":{"x":"independent","y":"independent"}},
     "layer":[
      {"data":{"name":"g4"},"mark":{"type":"tick","orient":"horizontal","size":35,"thickness":1.5,"color":"black","opacity":1,"clip":true},
       "encoding":{"x":{"field":"t","type":"quantitative","scale":{"domain":[0,12],"nice":false,"zero":false},"axis":{"orient":"bottom","values":[0,2,4,6,8,10,12],"tickSize":-8,"labelPadding":24,"title":"time (hrs)","minExtent":32,"maxExtent":32,"titlePadding":5}},
                   "y":{"field":"v","type":"quantitative","scale":{"domain":[10,35],"nice":false,"zero":false},"axis":{"orient":"left","values":[10,15,20,25,30,35],"tickSize":-8,"labelPadding":15,"title":"Gamma (degree)","minExtent":39,"maxExtent":39,"titlePadding":6}}}},
      {"data":{"name":"g4"},"mark":{"type":"tick","orient":"vertical","size":30,"thickness":1.5,"color":"black","opacity":1,"clip":true},
       "encoding":{"x":{"field":"t","type":"quantitative","scale":{"domain":[0,12],"nice":false,"zero":false},"axis":{"orient":"top","values":[0,2,4,6,8,10,12],"tickSize":-8,"labels":false,"title":null}},
                   "y":{"field":"v","type":"quantitative","scale":{"domain":[10,35],"nice":false,"zero":false},"axis":{"orient":"right","values":[10,15,20,25,30,35],"tickSize":-8,"labels":false,"title":null}}}},
      {"data":{"name":"g4f"},"mark":{"type":"line","color":"#ff0000","strokeWidth":3,"clip":true},
       "encoding":{"x":{"field":"t","type":"quantitative","scale":{"domain":[0,12],"nice":false,"zero":false},"axis":{"orient":"bottom","tickCount":24,"tickSize":-4,"labels":false,"domain":false,"title":null}},
                   "y":{"field":"v","type":"quantitative","scale":{"domain":[10,35],"nice":false,"zero":false},"axis":{"orient":"left","tickCount":25,"tickSize":-4,"labels":false,"domain":false,"title":null}}}},
      {"data":{"name":"g4f"},"mark":{"type":"point","opacity":0},
       "encoding":{"x":{"field":"t","type":"quantitative","scale":{"domain":[0,12],"nice":false,"zero":false},"axis":{"orient":"top","tickCount":24,"tickSize":-4,"labels":false,"domain":false,"title":null}},
                   "y":{"field":"v","type":"quantitative","scale":{"domain":[10,35],"nice":false,"zero":false},"axis":{"orient":"right","tickCount":25,"tickSize":-4,"labels":false,"domain":false,"title":null}}}}
     ]},
    {"width":94,"height":304,"data":{"values":[{"a":0}]},"mark":{"type":"point","opacity":0}},
    {"width":185,"height":304,
     "resolve":{"axis":{"x":"independent","y":"independent"}},
     "layer":[
      {"data":{"name":"b4"},"mark":{"type":"tick","orient":"horizontal","size":35,"thickness":1.5,"color":"black","opacity":1,"clip":true},
       "encoding":{"x":{"field":"t","type":"quantitative","scale":{"domain":[0,12],"nice":false,"zero":false},"axis":{"orient":"bottom","values":[0,2,4,6,8,10,12],"tickSize":-8,"labelPadding":24,"title":"time (hrs)","minExtent":32,"maxExtent":32,"titlePadding":5}},
                   "y":{"field":"v","type":"quantitative","scale":{"domain":[-24,-12],"nice":false,"zero":false},"axis":{"orient":"left","values":[-24,-22,-20,-18,-16,-14,-12],"tickSize":-8,"labelPadding":16,"title":"Beta (degree)","minExtent":44,"maxExtent":44,"titlePadding":6}}}},
      {"data":{"name":"b4"},"mark":{"type":"tick","orient":"vertical","size":30,"thickness":1.5,"color":"black","opacity":1,"clip":true},
       "encoding":{"x":{"field":"t","type":"quantitative","scale":{"domain":[0,12],"nice":false,"zero":false},"axis":{"orient":"top","values":[0,2,4,6,8,10,12],"tickSize":-8,"labels":false,"title":null}},
                   "y":{"field":"v","type":"quantitative","scale":{"domain":[-24,-12],"nice":false,"zero":false},"axis":{"orient":"right","values":[-24,-22,-20,-18,-16,-14,-12],"tickSize":-8,"labels":false,"title":null}}}},
      {"data":{"name":"b4f"},"mark":{"type":"line","color":"#ff0000","strokeWidth":3,"clip":true},
       "encoding":{"x":{"field":"t","type":"quantitative","scale":{"domain":[0,12],"nice":false,"zero":false},"axis":{"orient":"bottom","tickCount":24,"tickSize":-4,"labels":false,"domain":false,"title":null}},
                   "y":{"field":"v","type":"quantitative","scale":{"domain":[-24,-12],"nice":false,"zero":false},"axis":{"orient":"left","tickCount":24,"tickSize":-4,"labels":false,"domain":false,"title":null}}}},
      {"data":{"name":"b4f"},"mark":{"type":"point","opacity":0},
       "encoding":{"x":{"field":"t","type":"quantitative","scale":{"domain":[0,12],"nice":false,"zero":false},"axis":{"orient":"top","tickCount":24,"tickSize":-4,"labels":false,"domain":false,"title":null}},
                   "y":{"field":"v","type":"quantitative","scale":{"domain":[-24,-12],"nice":false,"zero":false},"axis":{"orient":"right","tickCount":24,"tickSize":-4,"labels":false,"domain":false,"title":null}}}}
     ]},
    {"width":149,"height":304,"data":{"values":[{"a":0}]},"mark":{"type":"point","opacity":0}},
    {"width":185,"height":304,
     "title":{"text":"9)","orient":"top","anchor":"start","frame":"group","align":"right","baseline":"top","dx":-52,"dy":26,"offset":0,"font":"Lato","fontSize":30,"fontWeight":"normal","color":"black"},
     "resolve":{"axis":{"x":"independent","y":"independent"}},
     "layer":[
      {"data":{"name":"g9"},"mark":{"type":"tick","orient":"horizontal","size":35,"thickness":1.5,"color":"black","opacity":1,"clip":true},
       "encoding":{"x":{"field":"t","type":"quantitative","scale":{"domain":[0,8],"nice":false,"zero":false},"axis":{"orient":"bottom","values":[0,2,4,6,8],"tickSize":-8,"labelPadding":24,"title":"time (hrs)","minExtent":32,"maxExtent":32,"titlePadding":5}},
                   "y":{"field":"v","type":"quantitative","scale":{"domain":[10,45],"nice":false,"zero":false},"axis":{"orient":"left","values":[10,15,20,25,30,35,40,45],"tickSize":-8,"labelPadding":15,"title":"Gamma (degree)","minExtent":39,"maxExtent":39,"titlePadding":6}}}},
      {"data":{"name":"g9"},"mark":{"type":"tick","orient":"vertical","size":30,"thickness":1.5,"color":"black","opacity":1,"clip":true},
       "encoding":{"x":{"field":"t","type":"quantitative","scale":{"domain":[0,8],"nice":false,"zero":false},"axis":{"orient":"top","values":[0,2,4,6,8],"tickSize":-8,"labels":false,"title":null}},
                   "y":{"field":"v","type":"quantitative","scale":{"domain":[10,45],"nice":false,"zero":false},"axis":{"orient":"right","values":[10,15,20,25,30,35,40,45],"tickSize":-8,"labels":false,"title":null}}}},
      {"data":{"name":"g9f"},"mark":{"type":"line","color":"#ff0000","strokeWidth":3,"clip":true},
       "encoding":{"x":{"field":"t","type":"quantitative","scale":{"domain":[0,8],"nice":false,"zero":false},"axis":{"orient":"bottom","tickCount":16,"tickSize":-4,"labels":false,"domain":false,"title":null}},
                   "y":{"field":"v","type":"quantitative","scale":{"domain":[10,45],"nice":false,"zero":false},"axis":{"orient":"left","tickCount":35,"tickSize":-4,"labels":false,"domain":false,"title":null}}}},
      {"data":{"name":"g9f"},"mark":{"type":"point","opacity":0},
       "encoding":{"x":{"field":"t","type":"quantitative","scale":{"domain":[0,8],"nice":false,"zero":false},"axis":{"orient":"top","tickCount":16,"tickSize":-4,"labels":false,"domain":false,"title":null}},
                   "y":{"field":"v","type":"quantitative","scale":{"domain":[10,45],"nice":false,"zero":false},"axis":{"orient":"right","tickCount":35,"tickSize":-4,"labels":false,"domain":false,"title":null}}}}
     ]},
    {"width":94,"height":304,"data":{"values":[{"a":0}]},"mark":{"type":"point","opacity":0}},
    {"width":185,"height":304,
     "resolve":{"axis":{"x":"independent","y":"independent"}},
     "layer":[
      {"data":{"name":"b9"},"mark":{"type":"tick","orient":"horizontal","size":35,"thickness":1.5,"color":"black","opacity":1,"clip":true},
       "encoding":{"x":{"field":"t","type":"quantitative","scale":{"domain":[0,8],"nice":false,"zero":false},"axis":{"orient":"bottom","values":[0,2,4,6,8],"tickSize":-8,"labelPadding":24,"title":"time (hrs)","minExtent":32,"maxExtent":32,"titlePadding":5}},
                   "y":{"field":"v","type":"quantitative","scale":{"domain":[-25,-5],"nice":false,"zero":false},"axis":{"orient":"left","values":[-25,-20,-15,-10,-5],"tickSize":-8,"labelPadding":16,"title":"Beta (degree)","minExtent":44,"maxExtent":44,"titlePadding":6}}}},
      {"data":{"name":"b9"},"mark":{"type":"tick","orient":"vertical","size":30,"thickness":1.5,"color":"black","opacity":1,"clip":true},
       "encoding":{"x":{"field":"t","type":"quantitative","scale":{"domain":[0,8],"nice":false,"zero":false},"axis":{"orient":"top","values":[0,2,4,6,8],"tickSize":-8,"labels":false,"title":null}},
                   "y":{"field":"v","type":"quantitative","scale":{"domain":[-25,-5],"nice":false,"zero":false},"axis":{"orient":"right","values":[-25,-20,-15,-10,-5],"tickSize":-8,"labels":false,"title":null}}}},
      {"data":{"name":"b9f"},"mark":{"type":"line","color":"#ff0000","strokeWidth":3,"clip":true},
       "encoding":{"x":{"field":"t","type":"quantitative","scale":{"domain":[0,8],"nice":false,"zero":false},"axis":{"orient":"bottom","tickCount":16,"tickSize":-4,"labels":false,"domain":false,"title":null}},
                   "y":{"field":"v","type":"quantitative","scale":{"domain":[-25,-5],"nice":false,"zero":false},"axis":{"orient":"left","tickCount":20,"tickSize":-4,"labels":false,"domain":false,"title":null}}}},
      {"data":{"name":"b9f"},"mark":{"type":"point","opacity":0},
       "encoding":{"x":{"field":"t","type":"quantitative","scale":{"domain":[0,8],"nice":false,"zero":false},"axis":{"orient":"top","tickCount":16,"tickSize":-4,"labels":false,"domain":false,"title":null}},
                   "y":{"field":"v","type":"quantitative","scale":{"domain":[-25,-5],"nice":false,"zero":false},"axis":{"orient":"right","tickCount":20,"tickSize":-4,"labels":false,"domain":false,"title":null}}}}
     ]}
  ],
  "config": {
    "view": {"stroke": null},
    "axis": {"grid": false, "labelFont": "Liberation Sans", "labelFontSize": 16, "labelColor": "black", "titleFont": "Liberation Sans", "titleFontSize": 16, "titleFontWeight": "normal", "titleColor": "black", "tickColor": "black", "tickWidth": 1.5, "domainColor": "black", "domainWidth": 1.5, "labelFlush": false, "labelOverlap": false}
  }
}
